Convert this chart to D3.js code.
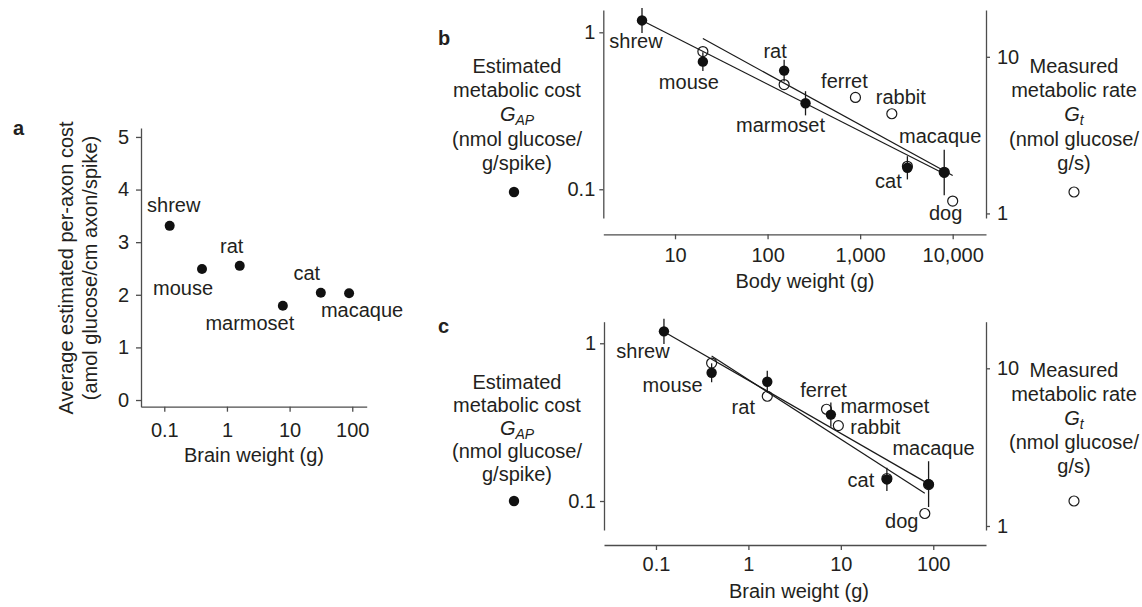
<!DOCTYPE html>
<html>
<head>
<meta charset="utf-8">
<script src="https://cdn.jsdelivr.net/npm/d3@7"></script>
<style>
  body { margin: 0; background: #fff; }
  svg { display: block; }
  text { font-family: "Liberation Sans", Arial, sans-serif; fill: #231f20; }
  .axis path, .axis line { stroke: #4d4d4d; stroke-width: 1.3; }
  .axis text { font-size: 20px; fill: #231f20; }
  .lbl { font-size: 20px; }
  .panel { font-size: 20px; font-weight: bold; }
</style>
</head>
<body>
<div id="chart"></div>
<script>
// species and values
const species     = ['shrew', 'mouse', 'rat', 'marmoset', 'ferret', 'rabbit', 'cat', 'macaque', 'dog'];
const bodyWeight  = [4.4, 20, 151, 257, 890, 2200, 3240, 8100, 10000];      // g
const brainWeight = [0.122, 0.40, 1.6, 7.8, 7.0, 9.4, 31.5, 89, 81];        // g
const axonCost    = [3.31, 2.49, 2.55, 1.79, null, null, 2.04, 2.03, null]; // amol glucose/cm axon/spike
const gAP         = [1.19, 0.65, 0.57, 0.353, null, null, 0.137, 0.128, null];
const gAPErr      = [0.08, 0.06, 0.07, 0.077, null, null, 0.074, 0.145, null]; // +/- log10 units
const gT          = [null, 10.8, 6.65, null, 5.5, 4.33, 2.0, 1.83, 1.2];

// power law fits y = a * x^b
const fitBodyGAP  = {a: 1.85,  b: -0.299,  from: 4.4,   to: 8100};
const fitBodyGT   = {a: 34.5,  b: -0.324,  from: 20,    to: 10000};
const fitBrainGAP = {a: 0.583, b: -0.337,  from: 0.122, to: 89};
const fitBrainGT  = {a: 8.47,  b: -0.3775, from: 0.40,  to: 81};

const ticksA    = [0, 1, 2, 3, 4, 5];
const ticksAx   = [0.1, 1, 10, 100];
const ticksBody = [10, 100, 1000, 10000];
const ticksGAP  = [0.1, 1];
const ticksGT   = [1, 10];

// label offsets (px) from the point
const labA = {shrew: [4, -14], mouse: [-19, 26], rat: [-8, -13], marmoset: [-33, 24], cat: [-14, -13], macaque: [13, 24]};
const labB = {shrew: [-6, 28], mouse: [-14, 27], rat: [-9, -13], marmoset: [-25, 29], ferret: [-11, -9],
              rabbit: [9, -10], cat: [-19, 20], macaque: [-4, -29], dog: [-7, 19]};
const labC = {shrew: [-21, 27], mouse: [-39, 19], rat: [-24, 32], ferret: [-3, -12], marmoset: [54, -2],
              rabbit: [37, 8], cat: [-26, 8], macaque: [5, -29], dog: [-23, 15]};

const width = 1142, height = 607;
const svg = d3.select('#chart').append('svg')
    .attr('width', width)
    .attr('height', height);

const fmt = d3.format(',');

// ---------- panel a ----------
const xA = d3.scaleLog().domain([0.0425, 170]).range([141, 366.7]);
const yA = d3.scaleLinear().domain([-0.127, 5.17]).range([406.7, 128]);

svg.append('g')
    .attr('class', 'axis')
    .attr('transform', 'translate(141,0)')
    .call(d3.axisLeft(yA).tickValues(ticksA).tickFormat(d3.format('d')).tickSize(5).tickSizeOuter(0).tickPadding(7));

svg.append('g')
    .attr('class', 'axis')
    .attr('transform', 'translate(0,406.7)')
    .call(d3.axisBottom(xA).tickValues(ticksAx).tickFormat(fmt).tickSize(5).tickSizeOuter(0).tickPadding(11));

const ptsA = species.map((s, i) => ({s, x: brainWeight[i], y: axonCost[i]})).filter(d => d.y != null);

svg.append('g').selectAll('circle')
    .data(ptsA)
    .enter().append('circle')
    .attr('cx', d => xA(d.x))
    .attr('cy', d => yA(d.y))
    .attr('r', 5)
    .attr('fill', '#111');

svg.append('g').selectAll('text')
    .data(ptsA)
    .enter().append('text')
    .attr('class', 'lbl')
    .attr('text-anchor', 'middle')
    .attr('x', d => xA(d.x) + labA[d.s][0])
    .attr('y', d => yA(d.y) + labA[d.s][1])
    .text(d => d.s);

svg.append('text').attr('class', 'lbl').attr('text-anchor', 'middle')
    .attr('x', 254).attr('y', 462).text('Brain weight (g)');

const yTitle = svg.append('text').attr('class', 'lbl').attr('text-anchor', 'middle')
    .attr('transform', 'translate(0,268) rotate(-90)');
yTitle.append('tspan').attr('x', 0).attr('y', 73).text('Average estimated per-axon cost');
yTitle.append('tspan').attr('x', 0).attr('y', 97).text('(amol glucose/cm axon/spike)');

svg.append('text').attr('class', 'panel').attr('x', 13).attr('y', 135).text('a');

// ---------- panels b and c ----------
function drawPanel(opt) {
  const g = svg.append('g');
  const x = d3.scaleLog().domain(opt.xDomain).range([opt.left, opt.right]);
  const yL = d3.scaleLog().domain(opt.yLDomain).range([opt.bottom, opt.top]);
  const yR = d3.scaleLog().domain(opt.yRDomain).range([opt.bottom, opt.top]);

  g.append('g')
      .attr('class', 'axis')
      .attr('transform', `translate(${opt.left},0)`)
      .call(d3.axisLeft(yL).tickValues(ticksGAP).tickFormat(fmt).tickSize(4).tickSizeOuter(0).tickPadding(4));

  g.append('g')
      .attr('class', 'axis')
      .attr('transform', `translate(${opt.right},0)`)
      .call(d3.axisRight(yR).tickValues(ticksGT).tickFormat(fmt).tickSize(4).tickSizeOuter(0).tickPadding(7));

  g.append('g')
      .attr('class', 'axis')
      .attr('transform', `translate(0,${opt.xAxisY})`)
      .call(d3.axisBottom(x).tickValues(opt.xTicks).tickFormat(fmt).tickSize(5).tickSizeOuter(0).tickPadding(opt.xPad));

  const w = opt.weights;
  const solid = species.map((s, i) => ({s, x: w[i], y: gAP[i], e: gAPErr[i]})).filter(d => d.y != null);
  const open = species.map((s, i) => ({s, x: w[i], y: gT[i]})).filter(d => d.y != null);

  // fit lines
  const line = d3.line();
  [[opt.fitGAP, yL], [opt.fitGT, yR]].forEach(([f, y]) => {
    g.append('path')
        .attr('d', line([f.from, f.to].map(v => [x(v), y(f.a * Math.pow(v, f.b))])))
        .attr('fill', 'none')
        .attr('stroke', '#1a1a1a')
        .attr('stroke-width', 1.2);
  });

  // error bars
  g.append('g').selectAll('line')
      .data(solid)
      .enter().append('line')
      .attr('x1', d => x(d.x)).attr('x2', d => x(d.x))
      .attr('y1', d => yL(d.y * Math.pow(10, d.e)))
      .attr('y2', d => yL(d.y / Math.pow(10, d.e)))
      .attr('stroke', '#1a1a1a')
      .attr('stroke-width', 1.3);

  g.append('g').selectAll('circle')
      .data(open)
      .enter().append('circle')
      .attr('cx', d => x(d.x))
      .attr('cy', d => yR(d.y))
      .attr('r', 5)
      .attr('fill', 'none')
      .attr('stroke', '#1a1a1a')
      .attr('stroke-width', 1.2);

  g.append('g').selectAll('circle')
      .data(solid)
      .enter().append('circle')
      .attr('cx', d => x(d.x))
      .attr('cy', d => yL(d.y))
      .attr('r', 5.2)
      .attr('fill', '#111');

  // labels: at the solid point where there is one, else the open one
  const labelled = species.map((s, i) => {
    const px = x(w[i]);
    const py = gAP[i] != null ? yL(gAP[i]) : yR(gT[i]);
    return {s, px, py};
  });
  g.append('g').selectAll('text')
      .data(labelled)
      .enter().append('text')
      .attr('class', 'lbl')
      .attr('text-anchor', 'middle')
      .attr('x', d => d.px + opt.labels[d.s][0])
      .attr('y', d => d.py + opt.labels[d.s][1])
      .text(d => d.s);

  g.append('text').attr('class', 'lbl').attr('text-anchor', 'middle')
      .attr('x', opt.xTitleX).attr('y', opt.xTitleY).text(opt.xTitle);

  // side legends
  const left = opt.legLeft, right = opt.legRight;
  const lt = g.append('text').attr('class', 'lbl').attr('text-anchor', 'middle');
  lt.append('tspan').attr('x', 517).attr('y', left[0]).text('Estimated');
  lt.append('tspan').attr('x', 517).attr('y', left[1]).text('metabolic cost');
  const gl = lt.append('tspan').attr('x', 517).attr('y', left[2]);
  gl.append('tspan').attr('font-style', 'italic').text('G');
  gl.append('tspan').attr('font-style', 'italic').attr('font-size', '14px').attr('dy', 4).text('AP');
  lt.append('tspan').attr('x', 517).attr('y', left[3]).text('(nmol glucose/');
  lt.append('tspan').attr('x', 517).attr('y', left[4]).text('g/spike)');
  g.append('circle').attr('cx', 514).attr('cy', left[5]).attr('r', 5.2).attr('fill', '#111');

  const rt = g.append('text').attr('class', 'lbl').attr('text-anchor', 'middle');
  rt.append('tspan').attr('x', 1074).attr('y', right[0]).text('Measured');
  rt.append('tspan').attr('x', 1074).attr('y', right[1]).text('metabolic rate');
  const gr = rt.append('tspan').attr('x', 1074).attr('y', right[2]);
  gr.append('tspan').attr('font-style', 'italic').text('G');
  gr.append('tspan').attr('font-style', 'italic').attr('font-size', '14px').attr('dy', 4).text('t');
  rt.append('tspan').attr('x', 1074).attr('y', right[3]).text('(nmol glucose/');
  rt.append('tspan').attr('x', 1074).attr('y', right[4]).text('g/s)');
  g.append('circle').attr('cx', 1074).attr('cy', right[5]).attr('r', 5)
      .attr('fill', 'none').attr('stroke', '#1a1a1a').attr('stroke-width', 1.2);

  g.append('text').attr('class', 'panel').attr('x', opt.tagX).attr('y', opt.tagY).text(opt.tag);
}

drawPanel({
  tag: 'b', tagX: 438, tagY: 45,
  left: 603.3, right: 986, top: 10, bottom: 218, xAxisY: 234.3, xPad: 9,
  xDomain: [1.68, 22900], yLDomain: [0.0656, 1.387], yRDomain: [0.935, 19.9],
  xTicks: ticksBody, weights: bodyWeight,
  fitGAP: fitBodyGAP, fitGT: fitBodyGT, labels: labB,
  xTitle: 'Body weight (g)', xTitleX: 805, xTitleY: 288,
  legLeft: [73, 97, 121, 146, 170, 192], legRight: [73, 97, 121, 146, 170, 192]
});

drawPanel({
  tag: 'c', tagX: 438, tagY: 333,
  left: 604, right: 986, top: 321.7, bottom: 530, xAxisY: 545, xPad: 7,
  xDomain: [0.0274, 372], yLDomain: [0.0655, 1.37], yRDomain: [0.943, 19.75],
  xTicks: ticksAx, weights: brainWeight,
  fitGAP: fitBrainGAP, fitGT: fitBrainGT, labels: labC,
  xTitle: 'Brain weight (g)', xTitleX: 799, xTitleY: 598,
  legLeft: [389, 412, 435, 458, 481, 501], legRight: [377, 401, 425, 449, 473, 501]
});
</script>
</body>
</html>
